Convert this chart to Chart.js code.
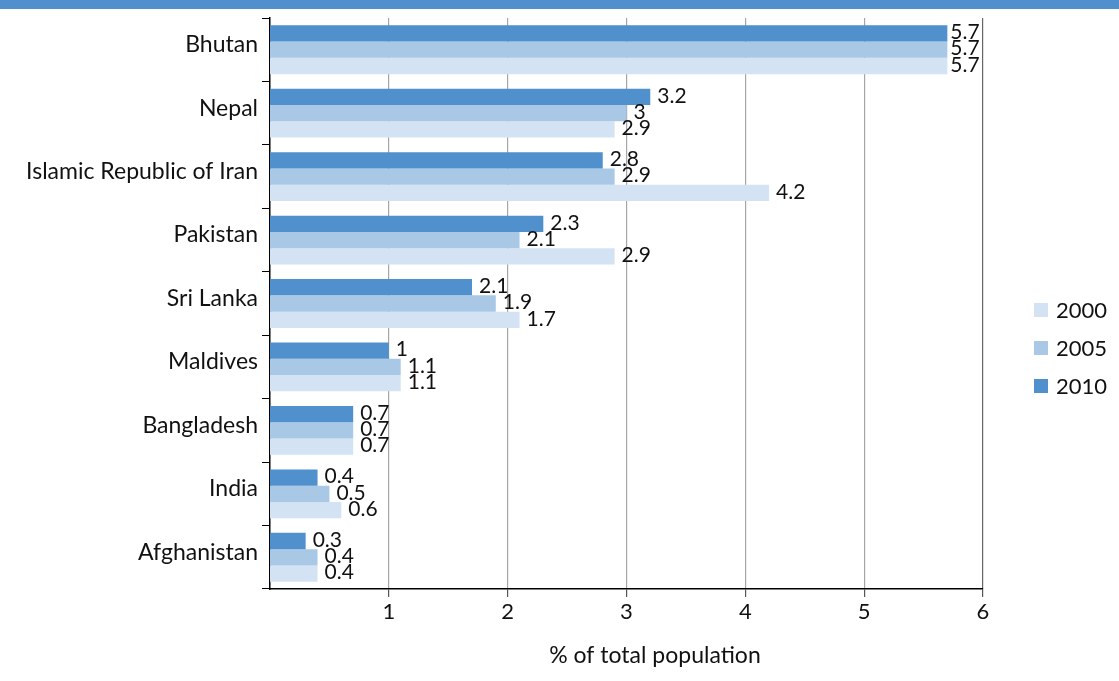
<!DOCTYPE html>
<html>
<head>
<meta charset="utf-8">
<script src="https://cdn.jsdelivr.net/npm/chart.js@4.4.1/dist/chart.umd.min.js"></script>
<style>
  html, body { margin: 0; padding: 0; background: #fff; }
  #wrap { position: relative; width: 1119px; height: 681px; }
  #band { position: absolute; left: 0; top: 0; width: 1119px; height: 9px; background: #4f90cd; }
</style>
</head>
<body>
<div id="wrap">
  <canvas id="chart" width="1119" height="681"></canvas>
  <div id="band"></div>
</div>
<script>
// countries, top to bottom
const countries = ['Bhutan', 'Nepal', 'Islamic Republic of Iran', 'Pakistan', 'Sri Lanka', 'Maldives', 'Bangladesh', 'India', 'Afghanistan'];

// bar lengths as drawn
const values2010 = [5.7, 3.2, 2.8, 2.3, 1.7, 1.0, 0.7, 0.4, 0.3];
const values2005 = [5.7, 3.0, 2.9, 2.1, 1.9, 1.1, 0.7, 0.5, 0.4];
const values2000 = [5.7, 2.9, 4.2, 2.9, 2.1, 1.1, 0.7, 0.6, 0.4];

// value labels as printed next to the bars
const labels2010 = ['5.7', '3.2', '2.8', '2.3', '2.1', '1', '0.7', '0.4', '0.3'];
const labels2005 = ['5.7', '3', '2.9', '2.1', '1.9', '1.1', '0.7', '0.5', '0.4'];
const labels2000 = ['5.7', '2.9', '4.2', '2.9', '1.7', '1.1', '0.7', '0.6', '0.4'];

const xTicks = [1, 2, 3, 4, 5, 6];
const axisTitle = '% of total population';

const FONT = 'Lato, "Open Sans", sans-serif';

// draws the value next to each bar
const valueLabels = {
  id: 'valueLabels',
  afterDatasetsDraw(chart) {
    const ctx = chart.ctx;
    ctx.save();
    ctx.font = '21px ' + FONT;
    ctx.fillStyle = '#111';
    ctx.textBaseline = 'middle';
    ctx.textAlign = 'left';
    chart.data.datasets.forEach((ds, i) => {
      chart.getDatasetMeta(i).data.forEach((bar, j) => {
        const dx = bar.x > 900 ? 3 : 7;
        ctx.fillText(ds.valueText[j], bar.x + dx, bar.y - 1);
      });
    });
    ctx.restore();
  }
};

// legend on the right (2000 first) and the axis title
const extras = {
  id: 'extras',
  afterDraw(chart) {
    const ctx = chart.ctx;
    ctx.save();
    ctx.font = '22px ' + FONT;
    ctx.textBaseline = 'middle';
    const items = chart.data.datasets.slice().reverse();
    items.forEach((ds, i) => {
      const y = 310 + i * 38;
      ctx.fillStyle = ds.backgroundColor;
      ctx.fillRect(1034, y - 7, 14, 14);
      ctx.fillStyle = '#111';
      ctx.fillText(ds.label, 1056, y + 1);
    });
    ctx.font = '23px ' + FONT;
    ctx.textAlign = 'center';
    ctx.fillText(axisTitle, 655, 656);
    ctx.restore();
  }
};

new Chart(document.getElementById('chart').getContext('2d'), {
  type: 'bar',
  data: {
    labels: countries,
    datasets: [
      { label: '2010', data: values2010, valueText: labels2010, backgroundColor: '#4f90cd' },
      { label: '2005', data: values2005, valueText: labels2005, backgroundColor: '#a8c8e6' },
      { label: '2000', data: values2000, valueText: labels2000, backgroundColor: '#d3e3f4' }
    ]
  },
  options: {
    indexAxis: 'y',
    responsive: false,
    animation: false,
    layout: { padding: { left: 0, right: 136, top: 18, bottom: 8 } },
    datasets: { bar: { categoryPercentage: 0.77, barPercentage: 1.0 } },
    plugins: { legend: { display: false }, tooltip: { enabled: false } },
    scales: {
      x: {
        min: 0,
        max: 6,
        afterBuildTicks(axis) { axis.ticks = xTicks.map(v => ({ value: v })); },
        afterFit(axis) { axis.height = 84; },
        border: { display: true, color: '#000', width: 1.5 },
        grid: {
          color: c => c.tick && c.tick.value === 6 ? '#666' : '#a6a6a6',
          tickColor: '#555',
          tickLength: 8,
          lineWidth: 1.2
        },
        ticks: { color: '#111', font: { family: FONT, size: 22 }, padding: 2 }
      },
      y: {
        afterFit(axis) { axis.width = 270; },
        border: { display: true, color: '#000', width: 1.5 },
        grid: { offset: true, drawOnChartArea: false, tickColor: '#000', tickLength: 8 },
        ticks: { color: '#111', font: { family: FONT, size: 23 }, padding: 4, labelOffset: -5 }
      }
    }
  },
  plugins: [valueLabels, extras]
});
</script>
</body>
</html>
